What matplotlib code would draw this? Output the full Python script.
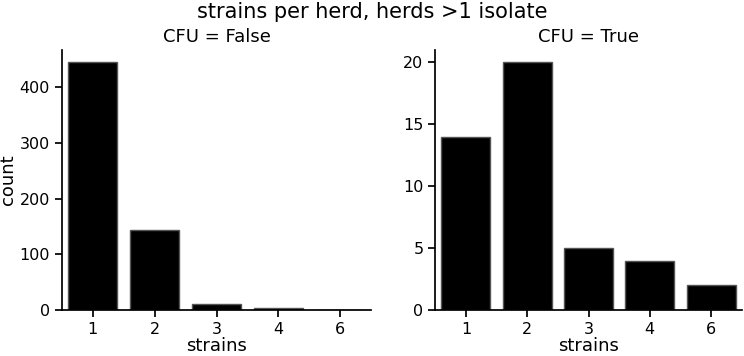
import numpy as np
import matplotlib.pyplot as plt

# ---- data ----
strains = ["1", "2", "3", "4", "6"]
counts_false = [445, 143, 11, 4, 1]
counts_true = [14, 20, 5, 4, 2]

fig = plt.figure(figsize=(7.44, 3.56), dpi=100)
ax1 = fig.add_axes([0.083, 0.129, 0.416, 0.731])
ax2 = fig.add_axes([0.585, 0.129, 0.412, 0.731])

for ax, counts, title in [(ax1, counts_false, "CFU = False"),
                          (ax2, counts_true, "CFU = True")]:
    x = np.arange(len(strains))
    ax.bar(x, counts, width=0.8, color="black", edgecolor="#555555", linewidth=1)
    ax.set_xticks(x)
    ax.set_xticklabels(strains)
    ax.set_xlim(-0.5, len(strains) - 0.5)
    ax.set_ylim(0, max(counts) * 1.05)
    ax.set_title(title, fontsize=13)
    ax.set_xlabel("strains", fontsize=13, labelpad=0)
    ax.tick_params(labelsize=11.5, width=1.25, length=5)
    for s in ["top", "right"]:
        ax.spines[s].set_visible(False)
    for s in ["left", "bottom"]:
        ax.spines[s].set_linewidth(1.25)

ax2.set_yticks([0, 5, 10, 15, 20])
ax1.set_ylabel("count", fontsize=13)
ax1.yaxis.set_label_coords(-0.145, 0.5)
fig.suptitle("strains per herd, herds >1 isolate", fontsize=15, y=0.995)

fig.savefig("out.png", dpi=100)
